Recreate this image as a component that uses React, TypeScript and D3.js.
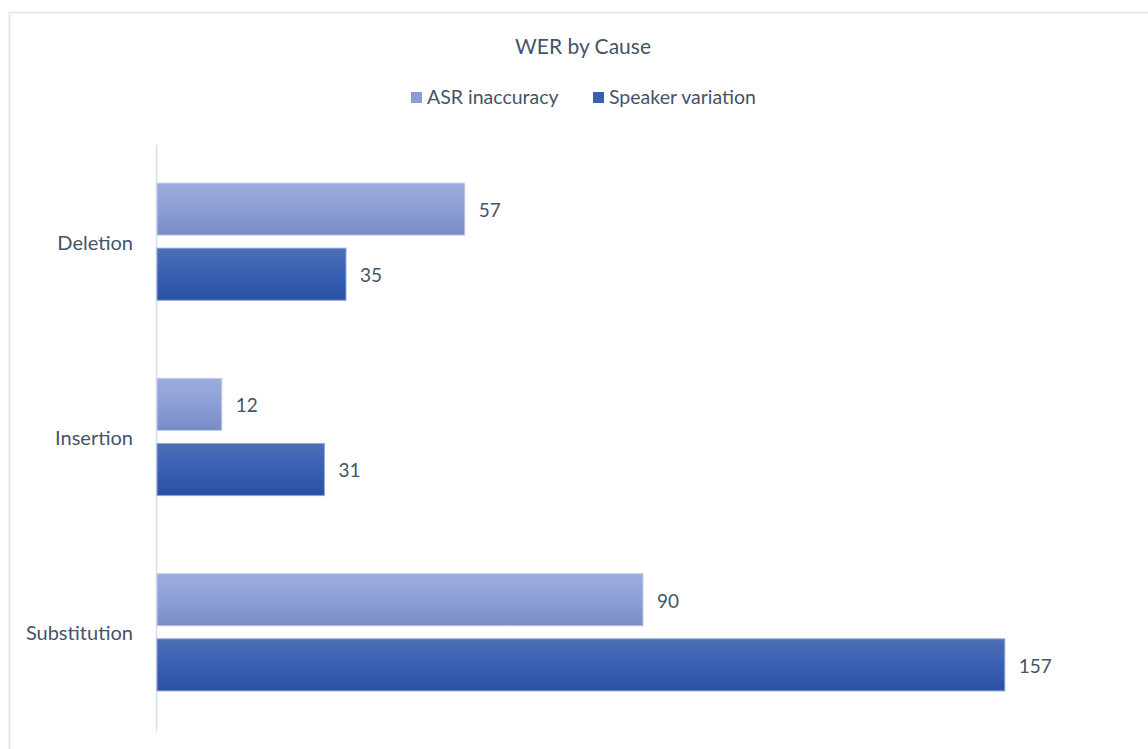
import React from "react";
import * as d3 from "d3";

const categories = ["Deletion", "Insertion", "Substitution"];
const seriesNames = ["ASR inaccuracy", "Speaker variation"];
const asrValues = [57, 12, 90];
const speakerValues = [35, 31, 157];
const title = "WER by Cause";

const W = 1148;
const H = 749;
const FONT = "Lato, 'Open Sans', 'Liberation Sans', sans-serif";
const TEXT = "#44546A";

export default function App() {
  const x = d3.scaleLinear().domain([0, 180]).range([157, 1129]);
  const y = d3.scaleBand().domain(categories).range([144, 730]).paddingInner(0).paddingOuter(0);
  const inner = d3.scaleBand().domain(seriesNames).range([0, y.bandwidth()]).paddingInner(0.2).paddingOuter(0.6);
  const series = [
    { name: seriesNames[0], values: asrValues, grad: "gA", stroke: "#C3CDEB", swatch: "#8C9DD3" },
    { name: seriesNames[1], values: speakerValues, grad: "gS", stroke: "#8FA6DA", swatch: "#3A5FB0" },
  ];
  return (
    <svg width={W} height={H} style={{ position: "absolute", left: 0, top: 0, background: "#fff" }}>
      <defs>
        <linearGradient id="gA" x1="0" y1="0" x2="0" y2="1">
          <stop offset="0" stopColor="#9CACDD" />
          <stop offset="0.5" stopColor="#8C9ED5" />
          <stop offset="1" stopColor="#7A8CC6" />
        </linearGradient>
        <linearGradient id="gS" x1="0" y1="0" x2="0" y2="1">
          <stop offset="0" stopColor="#4F6EB6" />
          <stop offset="0.5" stopColor="#3760B4" />
          <stop offset="1" stopColor="#2A50A0" />
        </linearGradient>
      </defs>
      <rect x={9.5} y={12.5} width={1200} height={800} fill="#fff" stroke="#E3E7EE" strokeWidth={2} />
      <text x={583} y={54} textAnchor="middle" fontFamily={FONT} fontSize={21} fill={TEXT}>{title}</text>
      {/* legend */}
      <g fontFamily={FONT} fontSize={19.5} fill={TEXT}>
        <rect x={411} y={92} width={11} height={11} fill={series[0].swatch} />
        <text x={427} y={104}>{seriesNames[0]}</text>
        <rect x={593} y={92} width={11} height={11} fill={series[1].swatch} />
        <text x={609} y={104}>{seriesNames[1]}</text>
      </g>
      {/* axis line */}
      <line x1={156.5} x2={156.5} y1={145} y2={731} stroke="#D9DEE6" strokeWidth={1.5} />
      {categories.map((c, i) => (
        <g key={c}>
          <text x={133} y={(y(c) as number) + y.bandwidth() / 2 + 3} textAnchor="end" dominantBaseline="middle" fontFamily={FONT} fontSize={20} fill={TEXT}>{c}</text>
          {series.map((s) => {
            const by = (y(c) as number) + (inner(s.name) as number);
            const bh = inner.bandwidth();
            const xe = x(s.values[i]);
            return (
              <g key={s.name}>
                <rect x={x(0)} y={by} width={xe - x(0)} height={bh} fill={`url(#${s.grad})`} stroke={s.stroke} strokeWidth={1} />
                <text x={xe + 14} y={by + bh / 2 + 3} dominantBaseline="middle" fontFamily={FONT} fontSize={19} fill={TEXT}>{s.values[i]}</text>
              </g>
            );
          })}
        </g>
      ))}
    </svg>
  );
}
